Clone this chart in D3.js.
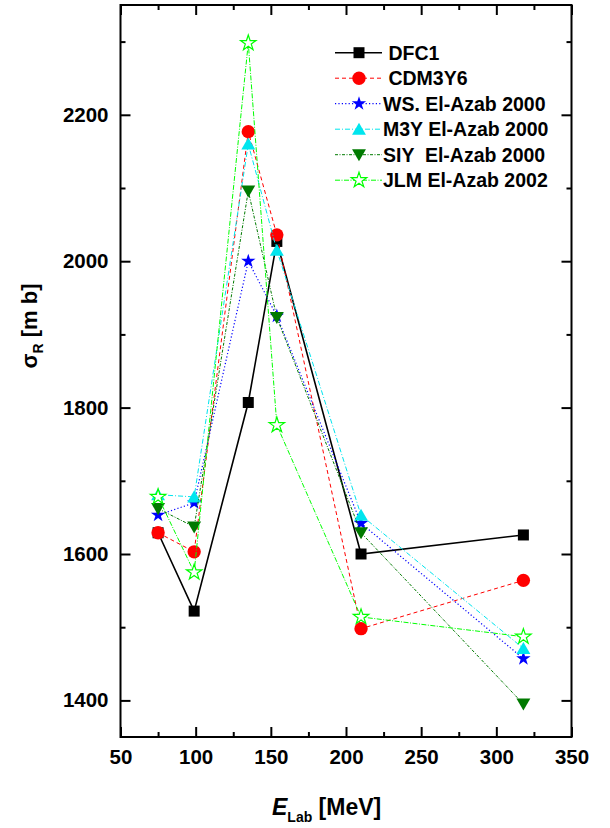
<!DOCTYPE html>
<html><head><meta charset="utf-8">
<script src="https://cdn.jsdelivr.net/npm/d3@7"></script>
<style>
html,body{margin:0;padding:0;background:#fff;}
svg{display:block;font-family:"Liberation Sans",Arial,sans-serif;}
</style></head>
<body>
<script>
const energies = [75, 99, 135, 154, 210, 318];
const dfc1   = [1629, 1522, 1807, 2027, 1600, 1626];
const cdm3y6 = [1629, 1603, 2177, 2036, 1498, 1564];
const wsAzab = [1653, 1670, 2000, 1925, 1642, 1457];
const m3yAzab= [1681, 1678, 2160, 2015, 1653, 1471];
const siyAzab= [1662, 1637, 2096, 1923, 1629, 1395];
const jlmAzab= [1678, 1575, 2298, 1776, 1514, 1487];
const seriesNames = ["DFC1", "CDM3Y6", "WS. El-Azab 2000", "M3Y El-Azab 2000", "SIY  El-Azab 2000", "JLM El-Azab 2002"];
const xMajorTicks = [50, 100, 150, 200, 250, 300, 350];
const xMinorTicks = [75, 125, 175, 225, 275, 325];
const yMajorTicks = [1400, 1600, 1800, 2000, 2200];
const yMinorTicks = [1500, 1700, 1900, 2100, 2300];

const W = 610, H = 828;
const L = 120.5, R = 571.5, T = 5, B = 737;
const svg = d3.select("body").append("svg").attr("width", W).attr("height", H);
const x = d3.scaleLinear().domain([50, 350]).range([L, R]);
const y = d3.scaleLinear().domain([1350, 2350]).range([B, T]);

const styles = [
  {color:"#000000", dash:null, width:1.6, sym:d3.symbolSquare, size:121, fill:true, rot:0, lead:" "},
  {color:"#ff0000", dash:"4,3", width:1, sym:d3.symbolCircle, size:140, fill:true, rot:0, lead:" "},
  {color:"#0000ff", dash:"1.2,2.2", width:1.2, sym:d3.symbolStar, size:64, fill:true, rot:0, lead:""},
  {color:"#00e5ee", dash:"5,2,1,2", width:1, sym:d3.symbolTriangle, size:84, fill:true, rot:0, lead:""},
  {color:"#007a00", dash:"3,1.5,1,1.5", width:1, sym:d3.symbolTriangle, size:84, fill:true, rot:180, lead:""},
  {color:"#00ff00", dash:"5,1.5,1,1.5", width:1, sym:d3.symbolStar, size:74, fill:false, rot:0, lead:""}
];
const allSeries = [dfc1, cdm3y6, wsAzab, m3yAzab, siyAzab, jlmAzab];

// axes
const axisStroke = 2;
svg.append("g").attr("transform", `translate(0,${B})`)
  .call(d3.axisBottom(x).tickValues(xMajorTicks).tickSizeInner(-10).tickSizeOuter(0).tickPadding(12).tickFormat(d3.format("d")));
svg.append("g").attr("transform", `translate(0,${B})`)
  .call(d3.axisBottom(x).tickValues(xMinorTicks).tickSizeInner(-5).tickSizeOuter(0).tickFormat(""));
svg.append("g").attr("transform", `translate(0,${T})`)
  .call(d3.axisTop(x).tickValues(xMajorTicks).tickSizeInner(-10).tickSizeOuter(0).tickFormat(""));
svg.append("g").attr("transform", `translate(0,${T})`)
  .call(d3.axisTop(x).tickValues(xMinorTicks).tickSizeInner(-5).tickSizeOuter(0).tickFormat(""));
svg.append("g").attr("transform", `translate(${L},0)`)
  .call(d3.axisLeft(y).tickValues(yMajorTicks).tickSizeInner(-10).tickSizeOuter(0).tickPadding(12).tickFormat(d3.format("d")));
svg.append("g").attr("transform", `translate(${L},0)`)
  .call(d3.axisLeft(y).tickValues(yMinorTicks).tickSizeInner(-5).tickSizeOuter(0).tickFormat(""));
svg.append("g").attr("transform", `translate(${R},0)`)
  .call(d3.axisRight(y).tickValues(yMajorTicks).tickSizeInner(-10).tickSizeOuter(0).tickFormat(""));
svg.append("g").attr("transform", `translate(${R},0)`)
  .call(d3.axisRight(y).tickValues(yMinorTicks).tickSizeInner(-5).tickSizeOuter(0).tickFormat(""));
svg.selectAll(".domain").remove();
svg.selectAll(".tick line").attr("stroke", "#000").attr("stroke-width", axisStroke);
svg.selectAll(".tick text").attr("fill", "#000").attr("font-size", 20.5).attr("font-weight", "bold")
  .attr("font-family", '"Liberation Sans",Arial,sans-serif');
svg.append("rect").attr("x", L).attr("y", T).attr("width", R - L).attr("height", B - T)
  .attr("fill", "none").attr("stroke", "#000").attr("stroke-width", axisStroke);

// series
const plot = svg.append("g");
allSeries.forEach((vals, i) => {
  const st = styles[i];
  const pts = energies.map((e, j) => [e, vals[j]]);
  plot.append("path").datum(pts)
    .attr("d", d3.line().x(d => x(d[0])).y(d => y(d[1])))
    .attr("fill", "none").attr("stroke", st.color).attr("stroke-width", st.width)
    .attr("stroke-dasharray", st.dash);
  const sym = d3.symbol().type(st.sym).size(st.size);
  plot.selectAll(null).data(pts).enter().append("path")
    .attr("d", sym)
    .attr("transform", d => `translate(${x(d[0])},${y(d[1]) + (st.sym === d3.symbolTriangle ? (st.rot ? -1.5 : 1.5) : 0)}) rotate(${st.rot})`)
    .attr("fill", st.fill ? st.color : "#fff")
    .attr("stroke", st.fill ? "none" : st.color).attr("stroke-width", 1.2);
});

// legend
const lg = svg.append("g");
const legY0 = 52.7, legDy = 25.5, lx0 = 335, lx1 = 382, lm = 359, ltx = 383;
seriesNames.forEach((name, i) => {
  const st = styles[i];
  const yy = legY0 + i * legDy;
  lg.append("line").attr("x1", lx0).attr("x2", lx1).attr("y1", yy).attr("y2", yy)
    .attr("stroke", st.color).attr("stroke-width", st.width).attr("stroke-dasharray", st.dash);
  lg.append("path").attr("d", d3.symbol().type(st.sym).size(st.size))
    .attr("transform", `translate(${lm},${yy + (st.sym === d3.symbolTriangle ? (st.rot ? -1.5 : 1.5) : 0)}) rotate(${st.rot})`)
    .attr("fill", st.fill ? st.color : "#fff")
    .attr("stroke", st.fill ? "none" : st.color).attr("stroke-width", 1.2);
  lg.append("text").attr("x", ltx).attr("y", yy + 7)
    .style("white-space", "pre")
    .attr("font-size", 19.5).attr("font-weight", "bold").attr("fill", "#000")
    .text(st.lead + name);
});

// axis titles
const xt1 = svg.append("text").attr("x", 272).attr("y", 815)
  .attr("font-size", 23).attr("font-weight", "bold").attr("fill", "#000");
xt1.append("tspan").attr("font-style", "italic").text("E");
xt1.append("tspan").attr("font-size", 14).attr("dy", 7).text("Lab");
xt1.append("tspan").attr("dy", -7).style("white-space", "pre").text(" [MeV]");

const yt = svg.append("text").attr("transform", "translate(37,326) rotate(-90)")
  .attr("text-anchor", "middle")
  .attr("font-size", 22).attr("font-weight", "bold").attr("fill", "#000");
yt.append("tspan").text("σ");
yt.append("tspan").attr("font-size", 14).attr("dy", 6).text("R");
yt.append("tspan").attr("dy", -6).style("white-space", "pre").text(" [m b]");
</script>
</body></html>
